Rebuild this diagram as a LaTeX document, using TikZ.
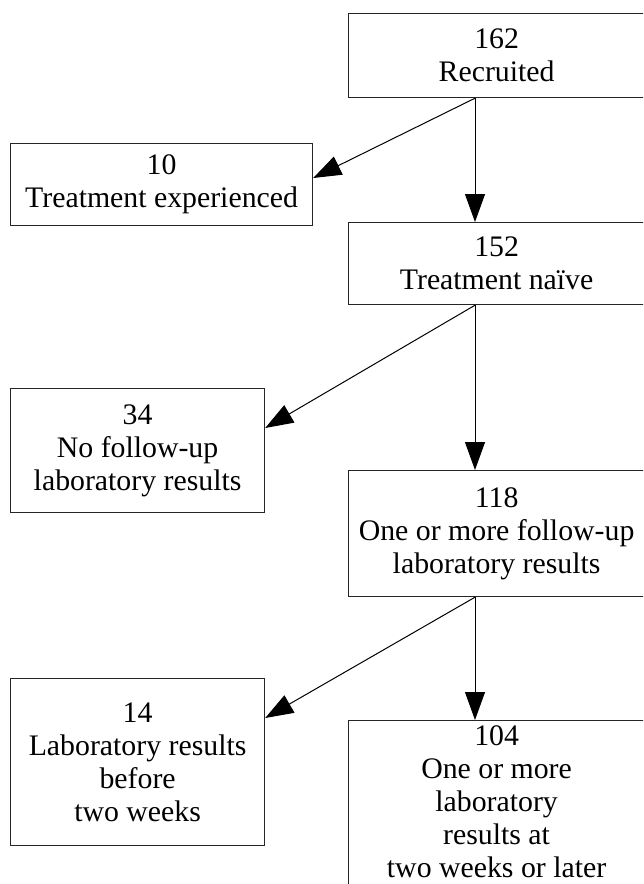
\documentclass[tikz,border=0pt]{standalone}
\usepackage{fontspec}
\setmainfont{Liberation Serif}
\usetikzlibrary{arrows.meta,calc}
\begin{document}
\begin{tikzpicture}[x=1pt,y=-1pt,
  box/.style={draw=black!85,line width=1.2pt,rectangle,align=center,inner sep=0pt,anchor=north west,font=\fontsize{29.8}{33}\selectfont},
  arr/.style={line width=1pt,-{Triangle[length=28pt,width=20pt]}}]
\useasboundingbox (0,0) rectangle (643,884);
\clip (0,0) rectangle (643,884);
\fill[white] (0,0) rectangle (643,884);
\node[box,minimum width=296pt,minimum height=84pt] (b1) at (348,13) {162\\Recruited};
\node[box,minimum width=302pt,minimum height=82pt] (b2) at (10,143) {10\\Treatment experienced};
\node[box,minimum width=296pt,minimum height=82pt] (b3) at (348,222) {152\\Treatment naïve};
\node[box,minimum width=254pt,minimum height=124pt] (b4) at (10,388) {34\\No follow-up\\laboratory results};
\node[box,minimum width=296pt,minimum height=126pt] (b5) at (348,470) {118\\One or more follow-up\\laboratory results};
\node[box,minimum width=254pt,minimum height=167pt] (b6) at (10,678) {14\\Laboratory results\\before\\two weeks};
\node[box,minimum width=296pt,inner ysep=5pt,text depth=160pt] (b7) at (348,720) {104\\One or more\\laboratory\\results at\\two weeks or later};
\coordinate (ax) at (475,0);
\draw[arr] (b1.south -| ax) -- (b3.north -| ax);
\draw[arr] (b1.south -| ax) -- ($(b2.north east)+(0,35)$);
\draw[arr] (b3.south -| ax) -- (b5.north -| ax);
\draw[arr] (b3.south -| ax) -- ($(b4.north east)+(0,40)$);
\draw[arr] (b5.south -| ax) -- (b7.north -| ax);
\draw[arr] (b5.south -| ax) -- ($(b6.north east)+(0,40)$);
\end{tikzpicture}
\end{document}
